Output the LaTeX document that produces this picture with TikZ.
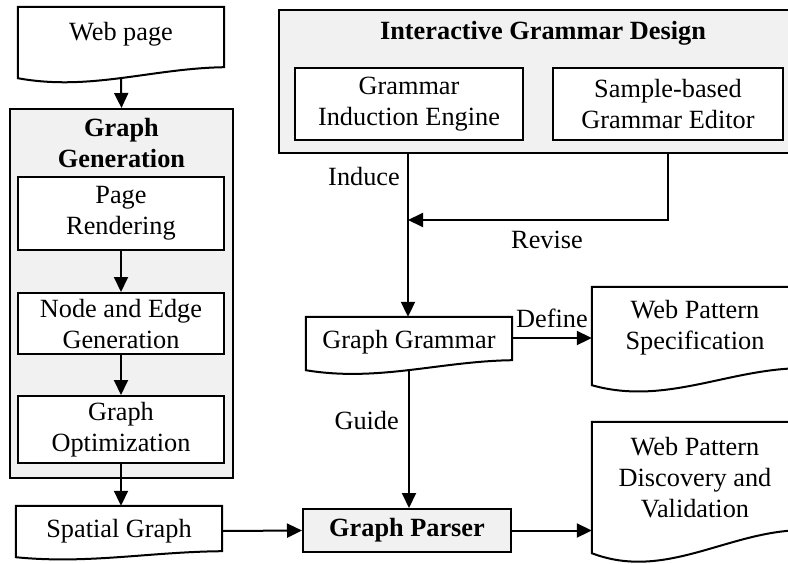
\documentclass[tikz,border=0pt]{standalone}
\usepackage{fontspec}
\setmainfont{Liberation Serif}
\usetikzlibrary{arrows.meta,positioning,calc}
\definecolor{ink}{HTML}{000000}
\definecolor{panelbg}{HTML}{F1F1F1}
\newcommand{\bigtext}{\fontsize{26.3}{31}\selectfont}
\tikzset{
  every node/.style={font=\bigtext},
  box/.style={draw=ink, line width=2pt, minimum width=206pt, align=center,
              fill=white, inner sep=0pt},
  hibox/.style={box, fill=panelbg, font=\bigtext\bfseries},
  panel/.style={draw=ink, line width=2pt, fill=panelbg, inner sep=0pt},
  ptitle/.style={font=\bigtext\bfseries, align=center},
  doc/.style={draw=none, minimum width=206pt, align=center, inner sep=0pt},
  docline/.style={draw=ink, line width=2pt},
  arr/.style={-{Triangle[length=15pt, width=14pt]}, line width=2pt, draw=ink},
  lbl/.style={font=\bigtext, inner sep=0pt},
}
% outline of a document shape: node, drop of left end, drop of right end
\newcommand{\docoutline}[3]{%
  \draw[docline] let \p1=(#1.north west), \p2=(#1.south east),
      \n1={\x2-\x1}, \n2={(#2)-(#3)} in
    ({\x1},{\y1}) -- ({\x2},{\y1}) -- ({\x2},{\y2-(#3pt)})
    .. controls ({\x1+0.65*\n1},{\y2-(#3pt)-0.1*\n2}) and ({\x1+0.35*\n1},{\y2-(#2pt)-1.2*\n2}) ..
    ({\x1},{\y2-(#2pt)}) -- cycle;}

\begin{document}
\begin{tikzpicture}[x=1pt, y=-1pt]
\useasboundingbox (0,0) rectangle (788,563);

\node[doc, minimum height=54pt] (web) at (121,34) {Web page};
\docoutline{web}{17}{6}

\node[panel, minimum width=223pt, minimum height=369pt] (gen) at (121.5,293.5) {};
\node[ptitle] (gentitle) at (121.5,143) {Graph\\Generation};
\node[box, minimum height=73pt] (render) at (121,213.5) {Page\\Rendering};
\node[box, minimum height=61pt] (nodeedge) at (121,323.5) {Node and Edge\\Generation};
\node[box, minimum height=67pt] (optim) at (121,429.5) {Graph\\Optimization};

\node[doc, minimum height=50pt] (spatial) at (119,531) {Spatial Graph};
\docoutline{spatial}{1}{-5}

\node[panel, minimum width=521pt, minimum height=143pt] (igd) at (539.5,81.5) {};
\node[ptitle] (igdtitle) at (543,33) {Interactive Grammar Design};
\node[box, minimum width=228pt, minimum height=72pt] (induct) at (409,104) {Grammar\\Induction Engine};
\node[box, minimum width=230pt, minimum height=72pt] (editor) at (668,104) {Sample-based\\Grammar Editor};

\node[doc, minimum height=50pt] (grammar) at (409,342) {Graph Grammar};
\docoutline{grammar}{3}{-7}

\node[doc, minimum height=82pt] (spec) at (695,328) {Web Pattern\\Specification};
\docoutline{spec}{16}{-1}

\node[hibox, minimum width=208pt, minimum height=43pt] (parser) at (407,530.5) {Graph Parser};

\node[doc, minimum height=112pt] (discover) at (695,478) {Web Pattern\\Discovery and\\Validation};
\docoutline{discover}{19}{-4}

\coordinate (join) at (408,220);

\node[lbl, anchor=east] (induce) at (400,177) {Induce};
\node[lbl] (revise) at (547,240) {Revise};
\node[lbl] (define) at (552,318) {Define};
\node[lbl, anchor=east] (guide) at (399,420) {Guide};

\draw[arr] ([yshift=-17pt]web.south) -- (gen.north);
\draw[arr] (render) -- (nodeedge);
\draw[arr] (nodeedge) -- (optim);
\draw[arr] (optim.south) -- (optim.south |- spatial.north);
\draw[arr] (spatial.east) -- (parser.west);
\draw[arr] (parser.east) -- (discover.west |- parser.east);
\draw[arr] (igd.south -| join) -- (join |- grammar.north);
\draw[arr] (igd.south -| editor) |- (join);
\draw[arr] ([yshift=-3pt]grammar.south) -- (grammar.south |- parser.north);
\draw[arr] ([yshift=4pt]grammar.east) -- ([yshift=4pt]grammar.east -| spec.west);

\end{tikzpicture}
\end{document}
